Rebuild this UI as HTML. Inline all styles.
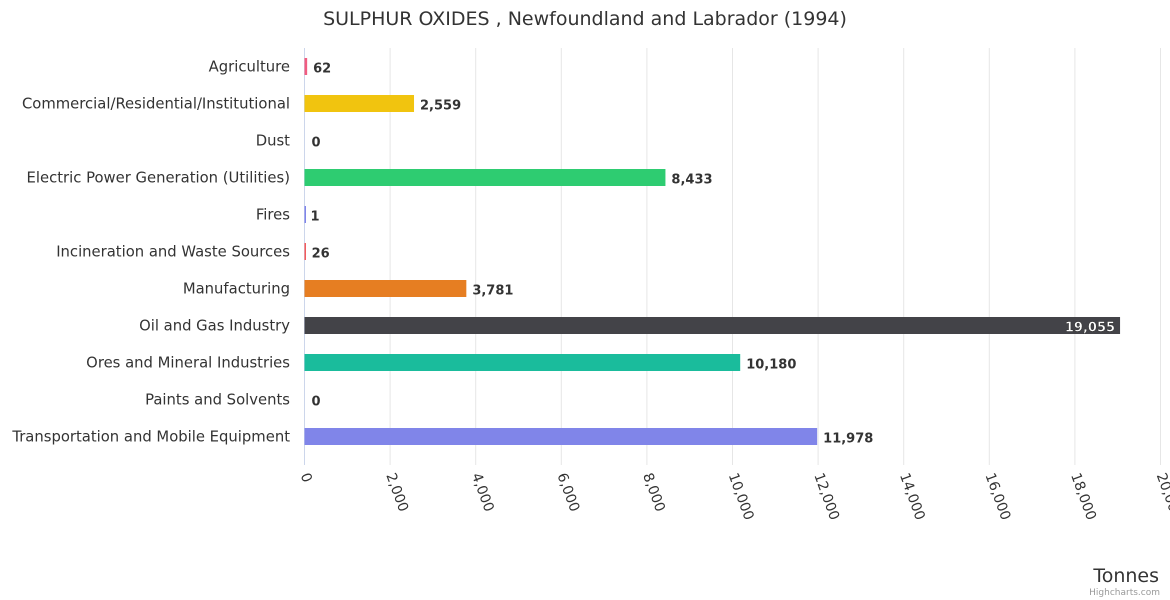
<!DOCTYPE html>
<html><head><meta charset="utf-8"><style>
body{margin:0;background:#fff;font-family:"DejaVu Sans","Liberation Sans",sans-serif}
svg{display:block}
</style></head><body>
<svg id="c" width="1170" height="600" xmlns="http://www.w3.org/2000/svg" font-family="DejaVu Sans, Liberation Sans, sans-serif">
<text x="585" y="25" text-anchor="middle" font-size="19" fill="#333">SULPHUR OXIDES , Newfoundland and Labrador (1994)</text>
<g id="grid"></g><g id="bars"></g><g id="labels"></g>
<text x="1159" y="582" text-anchor="end" font-size="19" fill="#333">Tonnes</text>
<text x="1160" y="595" text-anchor="end" font-size="9" fill="#999">Highcharts.com</text>
</svg>
<script>
const categories=["Agriculture","Commercial/Residential/Institutional","Dust","Electric Power Generation (Utilities)","Fires","Incineration and Waste Sources","Manufacturing","Oil and Gas Industry","Ores and Mineral Industries","Paints and Solvents","Transportation and Mobile Equipment"];
const values=[62,2559,0,8433,1,26,3781,19055,10180,0,11978];
const colors=["#f15c80","#f1c40f","#7cb5ec","#2ecc71","#8085e9","#f45b5b","#e67e22","#434348","#1abc9c","#90ed7d","#8085e9"];
const ticks=[0,2000,4000,6000,8000,10000,12000,14000,16000,18000,20000];
const NS="http://www.w3.org/2000/svg";
const x0=304.5,x1=1160.5,yTop=48,yBot=455,xmax=20000;
const X=v=>x0+(x1-x0)*v/xmax;
const step=(yBot-yTop)/categories.length;
const Y=i=>yTop+step*(i+0.5);
function mk(t,a,p){const e=document.createElementNS(NS,t);for(const k in a)e.setAttribute(k,a[k]);(p||document.getElementById('c')).appendChild(e);return e;}
const g=document.getElementById('grid'),b=document.getElementById('bars'),l=document.getElementById('labels');
ticks.forEach(t=>{
 const ln=mk('line',{x1:X(t),x2:X(t),y1:yTop,y2:yBot+10,stroke:t==0?'#ccd6eb':'#e6e6e6'},g);
 
 
 const tx=mk('text',{x:X(t)-4,y:yBot+20,'font-size':14,fill:'#333',transform:`rotate(70 ${X(t)-4} ${yBot+20})`},l);
 tx.textContent=t.toLocaleString('en-US');
 
 
});
categories.forEach((c,i)=>{
 const y=Y(i);
 const cl=mk('text',{x:290,y:y+5,'text-anchor':'end','font-size':14.8,fill:'#333'},l);
 cl.textContent=c;
 
 
 const w=Math.max(X(values[i])-x0,values[i]>0?1.5:0);
 const r=mk('rect',{x:x0,y:y-8.5,width:w,height:17,fill:colors[i]},b);
 
 
 const inside=X(values[i])>1000;
 const vl=mk('text',{x:inside?X(values[i])-5:X(values[i])+(values[i]>0?6:7),y:y+6,'text-anchor':inside?'end':'start','font-size':13,'font-weight':'bold',fill:inside?'#fff':'#333',stroke:inside?'#333':'none','stroke-width':inside?0.5:0},l);
 vl.textContent=values[i].toLocaleString('en-US');
 
 
});
const ax=mk('line',{x1:x0,x2:x0,y1:yTop,y2:yBot,stroke:'#ccd6eb'},g);


</script>
</body></html>
